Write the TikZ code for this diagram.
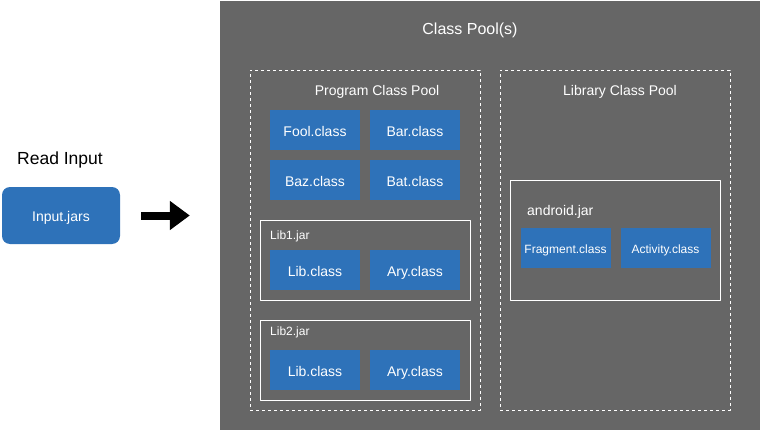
\documentclass[tikz,border=0pt]{standalone}
\usepackage{fontspec}
\setmainfont{Liberation Sans}
\usetikzlibrary{arrows.meta}
\definecolor{poolgray}{HTML}{666666}
\definecolor{classblue}{HTML}{2E72B9}

\begin{document}
\begin{tikzpicture}[x=1pt, y=-1pt, line join=round,
    classbox/.style={fill=classblue, text=white, minimum width=90pt, minimum height=40pt,
      inner sep=0pt, text height=13pt, text depth=0pt, font=\fontsize{14}{16}\selectfont},
    smallclass/.style={classbox, text height=11pt, text depth=0pt, font=\fontsize{12}{14}\selectfont},
    jarbox/.style={draw=white, line width=1pt, minimum width=210pt, inner sep=0pt},
    poolbox/.style={draw=white, line width=1pt, dash pattern=on 3pt off 3pt,
      minimum width=230pt, minimum height=340pt, inner sep=0pt},
    bigtitle/.style={text=white, inner sep=0pt, font=\fontsize{14}{16}\selectfont},
    jartitle/.style={text=white, inner sep=0pt, anchor=west, font=\fontsize{12}{14}\selectfont}]

    \useasboundingbox (0,0) rectangle (761,431);

    % Left side: the input
    \node[font=\fontsize{17.5}{20}\selectfont, inner sep=0pt] (read) at (60,160) {Read Input};
    \node[fill=classblue, text=white, rounded corners=8pt, minimum width=118pt,
      minimum height=57pt, inner sep=0pt, text height=11pt, text depth=0pt,
      font=\fontsize{14}{16}\selectfont] (input) at (61,215.5) {Input.jars};

    % The gray area with all pools
    \node[fill=poolgray, minimum width=540pt, minimum height=429pt, inner sep=0pt]
      (pools) at (490,215.5) {};
    \node[text=white, inner sep=0pt, font=\fontsize{16}{18}\selectfont] (poolstitle) at (470,30) {Class Pool(s)};

    % Thick arrow into the pools
    \draw[line width=8pt, -{Triangle[length=20pt,width=28pt]}, shorten <=21pt, shorten >=30pt]
      (input.east) -- (input.east -| pools.west);

    % Program class pool
    \node[poolbox] (program) at (365,240) {};
    \node[bigtitle] (programtitle) at (377,92) {Program Class Pool};
    \node[classbox] (fool) at (315,130) {Fool.class};
    \node[classbox] (bar) at (415,130) {Bar.class};
    \node[classbox] (baz) at (315,180) {Baz.class};
    \node[classbox] (bat) at (415,180) {Bat.class};

    % Lib1.jar
    \node[jarbox, minimum height=80pt] (libone) at (365,260) {};
    \node[jartitle] (libonetitle) at (270,236) {Lib1.jar};
    \node[classbox] (libonelib) at (315,270) {Lib.class};
    \node[classbox] (liboneary) at (415,270) {Ary.class};

    % Lib2.jar
    \node[jarbox, minimum height=80pt] (libtwo) at (365,360) {};
    \node[jartitle] (libtwotitle) at (270,332.5) {Lib2.jar};
    \node[classbox] (libtwolib) at (315,370) {Lib.class};
    \node[classbox] (libtwoary) at (415,370) {Ary.class};

    % Library class pool
    \node[poolbox] (library) at (615,240) {};
    \node[bigtitle] (librarytitle) at (620,92) {Library Class Pool};

    % android.jar
    \node[jarbox, minimum height=120pt] (android) at (615,240) {};
    \node[jartitle, font=\fontsize{14}{16}\selectfont] (androidtitle) at (527,212) {android.jar};
    \node[smallclass] (fragment) at (565.5,248) {Fragment.class};
    \node[smallclass] (activity) at (665.5,248) {Activity.class};

\end{tikzpicture}
\end{document}
